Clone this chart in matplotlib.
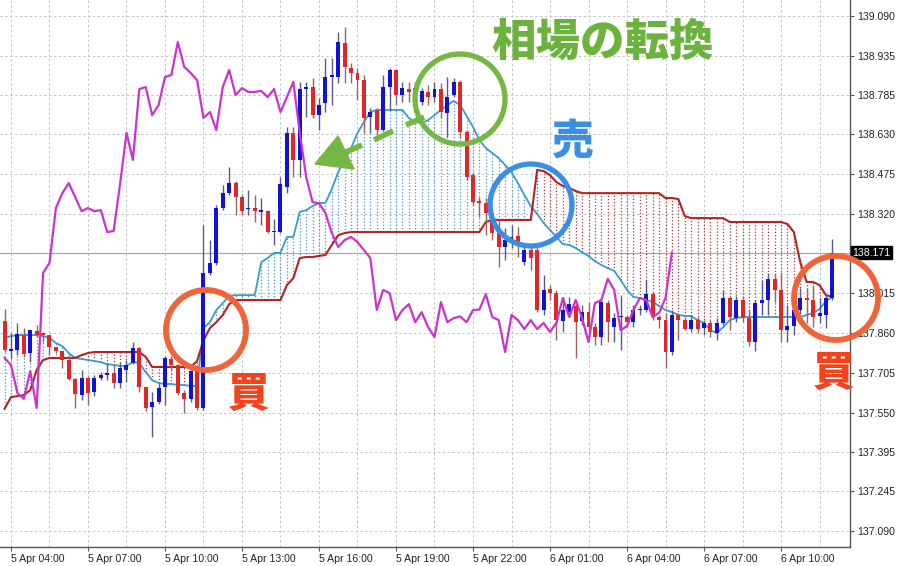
import numpy as np
import matplotlib
matplotlib.use("Agg")
import matplotlib.pyplot as plt
import matplotlib.transforms as mtransforms
from matplotlib.patches import Ellipse, Polygon
from matplotlib.lines import Line2D

plt.rcParams['font.family'] = ['Noto Sans CJK JP', 'DejaVu Sans']

# 15分足 5 Apr 03:45 - 6 Apr 11:45
opens = [137.905, 137.791, 137.793, 137.851, 137.781, 137.866, 137.859, 137.851, 137.804, 137.789,
         137.754, 137.680, 137.618, 137.684, 137.630, 137.684, 137.696, 137.704, 137.665, 137.715,
         137.742, 137.801, 137.649, 137.572, 137.591, 137.649, 137.758, 137.735, 137.626, 137.603,
         137.711, 137.568, 138.092, 138.131, 138.344, 138.402, 138.441, 138.387, 138.340, 138.344,
         138.328, 138.332, 138.251, 138.251, 138.426, 138.636, 138.531, 138.806, 138.814, 138.705,
         138.752, 138.853, 138.853, 138.985, 138.888, 138.869, 138.841, 138.698, 138.725, 138.647,
         138.814, 138.880, 138.783, 138.806, 138.810, 138.756, 138.795, 138.775, 138.806, 138.713,
         138.783, 138.834, 138.639, 138.472, 138.371, 138.363, 138.325, 138.247, 138.193, 138.212,
         138.236, 138.134, 138.181, 138.181, 137.948, 138.030, 138.014, 137.905, 137.940, 137.964,
         137.905, 137.940, 137.882, 137.843, 137.975, 137.882, 137.921, 137.921, 137.901, 137.948,
         137.948, 138.010, 137.921, 137.909, 137.785, 137.929, 137.909, 137.874, 137.909, 137.878,
         137.898, 137.859, 137.898, 137.995, 137.917, 137.987, 137.917, 137.824, 137.975, 137.987,
         138.069, 138.026, 137.870, 137.886, 137.948, 137.995, 137.987, 137.925, 137.929, 137.995]
highs = [137.952, 137.859, 137.898, 137.878, 137.872, 137.890, 137.863, 137.853, 137.806, 137.791,
         137.773, 137.684, 137.715, 137.692, 137.696, 137.707, 137.742, 137.735, 137.746, 137.754,
         137.824, 137.803, 137.651, 137.630, 137.665, 137.770, 137.770, 137.737, 137.637, 137.715,
         137.735, 138.278, 138.220, 138.356, 138.433, 138.503, 138.449, 138.398, 138.414, 138.395,
         138.383, 138.336, 138.302, 138.465, 138.659, 138.659, 138.834, 138.834, 138.849, 138.772,
         138.927, 138.927, 139.028, 139.047, 138.907, 138.888, 138.861, 138.733, 138.733, 138.861,
         138.888, 138.882, 138.834, 138.834, 138.834, 138.810, 138.822, 138.834, 138.830, 138.853,
         138.849, 138.841, 138.647, 138.480, 138.387, 138.383, 138.344, 138.298, 138.267, 138.278,
         138.271, 138.201, 138.201, 138.201, 138.084, 138.045, 138.026, 137.999, 137.999, 137.987,
         137.968, 137.979, 137.898, 137.995, 137.987, 137.937, 138.006, 137.929, 137.968, 137.968,
         138.065, 138.018, 137.929, 137.937, 137.948, 137.937, 137.921, 137.929, 137.921, 137.909,
         137.909, 137.917, 138.026, 138.003, 138.003, 138.003, 137.948, 137.987, 138.065, 138.092,
         138.092, 138.096, 137.968, 138.006, 138.034, 138.034, 138.045, 137.995, 138.006, 138.224]
lows = [137.785, 137.758, 137.773, 137.766, 137.746, 137.843, 137.824, 137.773, 137.781, 137.723,
        137.676, 137.568, 137.599, 137.579, 137.614, 137.676, 137.676, 137.645, 137.645, 137.669,
        137.740, 137.630, 137.556, 137.455, 137.583, 137.579, 137.715, 137.618, 137.548, 137.591,
        137.560, 137.560, 138.084, 138.123, 138.336, 138.395, 138.317, 138.317, 138.317, 138.290,
        138.278, 138.247, 138.201, 138.247, 138.402, 138.465, 138.465, 138.698, 138.694, 138.647,
        138.717, 138.744, 138.830, 138.830, 138.830, 138.764, 138.636, 138.636, 138.616, 138.645,
        138.725, 138.744, 138.756, 138.756, 138.756, 138.744, 138.744, 138.756, 138.694, 138.620,
        138.775, 138.616, 138.453, 138.356, 138.309, 138.239, 138.220, 138.115, 138.142, 138.189,
        138.154, 138.123, 138.103, 137.940, 137.929, 137.987, 137.832, 137.863, 137.929, 137.762,
        137.890, 137.870, 137.812, 137.812, 137.824, 137.824, 137.793, 137.882, 137.882, 137.929,
        137.940, 137.909, 137.878, 137.723, 137.773, 137.832, 137.870, 137.863, 137.859, 137.851,
        137.843, 137.832, 137.890, 137.870, 137.901, 137.901, 137.808, 137.789, 137.929, 137.929,
        137.979, 137.824, 137.824, 137.851, 137.937, 137.898, 137.882, 137.898, 137.878, 137.987]
closes = [137.793, 137.795, 137.855, 137.777, 137.870, 137.851, 137.851, 137.804, 137.789, 137.754,
          137.680, 137.622, 137.684, 137.626, 137.684, 137.696, 137.704, 137.665, 137.723, 137.735,
          137.801, 137.649, 137.568, 137.591, 137.645, 137.762, 137.735, 137.626, 137.603, 137.711,
          137.568, 138.092, 138.131, 138.344, 138.402, 138.441, 138.387, 138.332, 138.344, 138.332,
          138.336, 138.251, 138.255, 138.437, 138.636, 138.531, 138.806, 138.814, 138.705, 138.744,
          138.853, 138.861, 138.989, 138.892, 138.869, 138.841, 138.694, 138.717, 138.647, 138.814,
          138.880, 138.783, 138.810, 138.795, 138.795, 138.799, 138.775, 138.806, 138.717, 138.775,
          138.834, 138.639, 138.465, 138.367, 138.363, 138.325, 138.247, 138.193, 138.220, 138.232,
          138.212, 138.181, 138.150, 137.948, 138.026, 138.014, 137.909, 137.948, 137.971, 137.901,
          137.940, 137.882, 137.843, 137.979, 137.901, 137.917, 137.923, 137.901, 137.948, 137.950,
          138.010, 137.921, 137.909, 137.785, 137.929, 137.909, 137.874, 137.909, 137.874, 137.898,
          137.863, 137.898, 137.995, 137.921, 137.987, 137.917, 137.824, 137.975, 137.987, 138.069,
          138.026, 137.870, 137.886, 137.948, 137.995, 137.987, 137.921, 137.937, 137.995, 138.171]

# 一目均衡表 先行スパンA / B (表示位置の値)
span_a = [137.840, 137.847, 137.851, 137.851, 137.851, 137.851, 137.847, 137.840, 137.820, 137.808,
          137.781, 137.762, 137.758, 137.754, 137.750, 137.746, 137.738, 137.735, 137.731, 137.731,
          137.746, 137.742, 137.707, 137.676, 137.665, 137.661, 137.661, 137.657, 137.657, 137.653,
          137.653, 137.878, 137.901, 137.948, 137.975, 138.003, 138.006, 138.006, 138.006, 138.006,
          138.134, 138.150, 138.170, 138.170, 138.232, 138.232, 138.329, 138.336, 138.352, 138.364,
          138.364, 138.418, 138.484, 138.531, 138.577, 138.636, 138.678, 138.717, 138.725, 138.725,
          138.725, 138.725, 138.725, 138.694, 138.678, 138.674, 138.686, 138.705, 138.725, 138.744,
          138.760, 138.744, 138.702, 138.659, 138.608, 138.577, 138.558, 138.538, 138.511, 138.484,
          138.441, 138.395, 138.352, 138.321, 138.286, 138.259, 138.232, 138.204, 138.201, 138.189,
          138.173, 138.158, 138.138, 138.123, 138.111, 138.100, 138.065, 138.026, 137.999, 137.995,
          137.987, 137.979, 137.964, 137.948, 137.940, 137.929, 137.925, 137.925, 137.909, 137.898,
          137.870, 137.859, 137.882, 137.909, 137.917, 137.921, 137.921, 137.921, 137.921, 137.921,
          137.921, 137.921, 137.921, 137.921, 137.921, 137.929, 137.937, 137.952, 137.983, 137.999]
span_b = [137.565, 137.610, 137.614, 137.618, 137.637, 137.715, 137.754, 137.762, 137.762, 137.762,
          137.762, 137.762, 137.773, 137.781, 137.785, 137.785, 137.785, 137.785, 137.785, 137.785,
          137.785, 137.785, 137.766, 137.727, 137.727, 137.727, 137.727, 137.727, 137.727, 137.727,
          137.750, 137.830, 137.878, 137.901, 137.929, 137.971, 137.987, 137.987, 137.987, 137.987,
          137.987, 137.987, 137.987, 137.987, 138.045, 138.072, 138.150, 138.154, 138.154, 138.158,
          138.162, 138.201, 138.239, 138.247, 138.251, 138.251, 138.251, 138.251, 138.251, 138.251,
          138.251, 138.251, 138.251, 138.251, 138.251, 138.251, 138.251, 138.251, 138.251, 138.251,
          138.251, 138.251, 138.251, 138.251, 138.251, 138.290, 138.298, 138.298, 138.298, 138.298,
          138.298, 138.298, 138.298, 138.492, 138.488, 138.472, 138.445, 138.430, 138.422, 138.410,
          138.402, 138.402, 138.402, 138.402, 138.402, 138.402, 138.402, 138.402, 138.402, 138.402,
          138.402, 138.402, 138.402, 138.383, 138.383, 138.379, 138.313, 138.305, 138.305, 138.305,
          138.305, 138.305, 138.305, 138.290, 138.290, 138.290, 138.290, 138.290, 138.290, 138.290,
          138.290, 138.290, 138.282, 138.251, 138.134, 138.057, 138.057, 138.045, 138.006, 137.999]
chikou_shift = 25

time_labels = ["5 Apr 04:00", "5 Apr 07:00", "5 Apr 10:00", "5 Apr 13:00", "5 Apr 16:00",
               "5 Apr 19:00", "5 Apr 22:00", "6 Apr 01:00", "6 Apr 04:00", "6 Apr 07:00",
               "6 Apr 10:00"]
price_ticks = [139.090, 138.935, 138.785, 138.630, 138.475, 138.320, 138.015,
               137.860, 137.705, 137.550, 137.395, 137.245, 137.090]
last_price = 138.171

W, H = 900, 566
fig = plt.figure(figsize=(W / 100, H / 100), dpi=100)
ax = fig.add_axes([0, 19 / H, 850 / W, 547 / H])

o = np.array(opens); h = np.array(highs); l = np.array(lows); c = np.array(closes)
a = np.array(span_a); b = np.array(span_b)
n = len(c)
idx = np.arange(n)
up = c >= o

ax.set_xlim(-0.71, 131.75)
ax.set_ylim(137.028, 139.152)

# グリッド
for p in price_ticks:
    ax.axhline(p, color='#c4c4c4', lw=0.7, ls=(0, (2.5, 2.5)), zorder=0)
for g in range(1, n + 2, 6):
    ax.axvline(g, color='#c4c4c4', lw=0.7, ls=(0, (2.5, 2.5)), zorder=0)
ax.axhline(last_price, color='#a8a8a8', lw=0.9, zorder=0.5)

# 雲 (点線ハッチ)
blue_up = a > b
ax.vlines(idx[blue_up], b[blue_up], a[blue_up], colors='#4a96c4', lw=0.9,
          linestyles=(0, (1, 1.6)), zorder=1)
ax.vlines(idx[~blue_up], a[~blue_up], b[~blue_up], colors='#a83c3c', lw=0.9,
          linestyles=(0, (1, 1.6)), zorder=1)
ax.plot(idx, a, color='#3a9ad0', lw=1.3, zorder=2)
ax.plot(idx, b, color='#b42222', lw=1.5, zorder=2)

# ローソク足
wick_cols = np.where(up, '#5a5a88', '#9a6464')
body_cols = np.where(up, '#1212d4', '#e02626')
ax.vlines(idx, l, h, colors=wick_cols, lw=1, zorder=3)
body_h = np.maximum(np.abs(c - o), 0.003)
ax.bar(idx, body_h, bottom=np.minimum(o, c), width=0.62, color=body_cols, lw=0, zorder=4)

# 遅行スパン
ax.plot(idx[:n - chikou_shift], c[chikou_shift:], color='#cc33cc', lw=1.6, zorder=5)

# 軸
for s in ['left', 'top']:
    ax.spines[s].set_visible(False)
for s in ['right', 'bottom']:
    ax.spines[s].set_color('#555555')
    ax.spines[s].set_linewidth(1)
ax.yaxis.tick_right()
ax.set_yticks(price_ticks)
ax.set_yticklabels(['%.3f' % p for p in price_ticks])
ax.set_xticks(np.arange(1, n, 12)[:len(time_labels)])
ax.set_xticklabels(time_labels, ha='left')
ax.tick_params(axis='both', direction='out', length=3, color='#555555',
               labelsize=7.6, labelcolor='#222222', pad=2)
for t in ax.get_xticklabels() + ax.get_yticklabels():
    t.set_fontfamily('Liberation Sans')

trans = mtransforms.blended_transform_factory(ax.transAxes, ax.transData)
ax.text(1.003, last_price, '%.3f' % last_price, transform=trans, ha='left', va='center',
        fontsize=7.6, color='white', family='Liberation Sans', clip_on=False,
        bbox=dict(facecolor='black', edgecolor='black', pad=1.2), zorder=10)


# 注釈 (画像ピクセル座標)
def fpx(x, y):
    return x / W, 1 - y / H


def ring(cx, cy, r, color, lw):
    fig.add_artist(Ellipse(fpx(cx, cy), 2 * r / W, 2 * r / H, transform=fig.transFigure,
                           fill=False, edgecolor=color, lw=lw, zorder=20))


green = '#74b743'
ring(460, 99, 45, green, 3.8)
ring(531, 205, 41, '#3a8ee4', 3.8)
ring(206, 330, 40, '#f0643a', 4.2)
ring(836, 298, 42, '#f0643a', 4.2)

# 点線の矢印
for (x1, y1, x2, y2) in [(346, 152, 362, 145), (374, 140, 393, 131), (406, 125, 424, 117)]:
    fig.add_artist(Line2D([x1 / W, x2 / W], [1 - y1 / H, 1 - y2 / H], transform=fig.transFigure,
                          color=green, lw=4, solid_capstyle='butt', zorder=20))
fig.add_artist(Polygon([fpx(315, 164), fpx(338, 136), fpx(354, 169)], closed=True,
                       transform=fig.transFigure, color=green, zorder=20))

fig.text(*fpx(603, 42), '相場の転換', ha='center', va='center', fontsize=32,
         fontweight='black', color='#6cb33e', zorder=21)
fig.text(*fpx(572, 141), '売', ha='center', va='center', fontsize=30,
         fontweight='black', color='#3a8ee4', zorder=21)
fig.text(*fpx(249, 395), '買', ha='center', va='center', fontsize=30,
         fontweight='black', color='#f4421c', zorder=21)
fig.text(*fpx(834, 374), '買', ha='center', va='center', fontsize=30,
         fontweight='black', color='#f4421c', zorder=21)

fig.savefig('out.png', dpi=100)
